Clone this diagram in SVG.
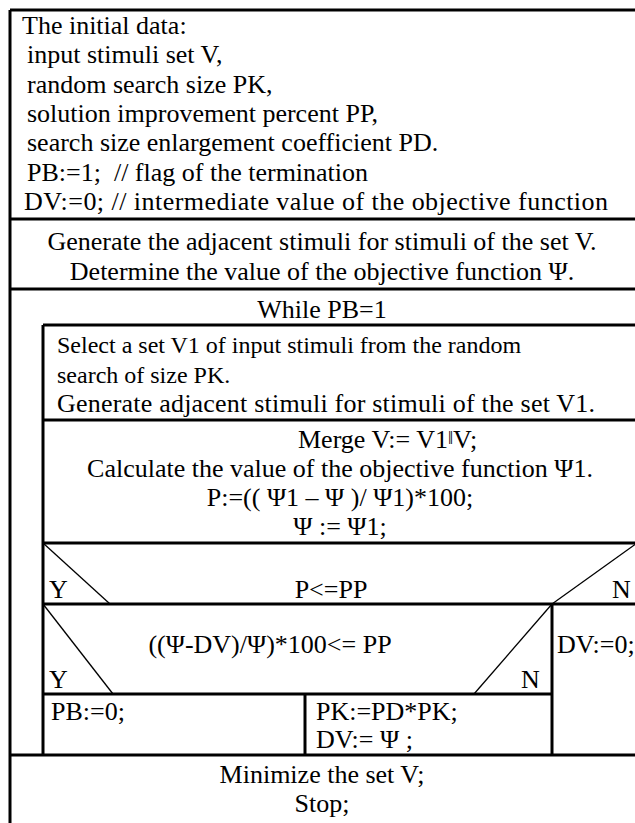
<svg xmlns="http://www.w3.org/2000/svg" width="635" height="823" viewBox="0 0 635 823">
<style>
text{font-family:"Liberation Serif","Times New Roman",serif;font-size:26px;fill:#000}
.c{text-anchor:middle}
.s{font-size:24px}
.b{stroke:#000;stroke-width:3;fill:none}
.d{stroke:#000;stroke-width:1.3;fill:none}
</style>
<rect width="635" height="823" fill="#fff"/>
<g id="frame">
<line class="b" x1="10" y1="10" x2="640" y2="10"/>
<line class="b" x1="10" y1="10" x2="10" y2="823"/>
</g>
<g id="init">
<text x="22" y="34">The initial data:</text>
<text x="27" y="63">input stimuli set V,</text>
<text x="27" y="93">random search size PK,</text>
<text x="27" y="122">solution improvement percent PP,</text>
<text x="27" y="151">search size enlargement coefficient PD.</text>
<text x="27" y="181" xml:space="preserve">PB:=1;  // flag of the termination</text>
<text x="24" y="210" textLength="584" lengthAdjust="spacing">DV:=0; // intermediate value of the objective function</text>
</g>
<g id="generate">
<line class="b" x1="10" y1="219" x2="640" y2="219"/>
<text class="c" x="322" y="250">Generate the adjacent stimuli for stimuli of the set V.</text>
<text class="c" x="322" y="280">Determine the value of the objective function Ψ.</text>
</g>
<g id="while">
<line class="b" x1="10" y1="289" x2="640" y2="289"/>
<text class="c" x="322" y="318">While PB=1</text>
<line class="b" x1="43" y1="325" x2="640" y2="325"/>
<line class="b" x1="43" y1="325" x2="43" y2="755"/>
</g>
<g id="select">
<text class="s" x="57" y="353">Select a set V1 of input stimuli from the random</text>
<text class="s" x="57" y="383">search of size PK.</text>
<text x="57" y="412" textLength="538" lengthAdjust="spacing">Generate adjacent stimuli for stimuli of the set V1.</text>
</g>
<g id="merge">
<line class="b" x1="43" y1="420" x2="640" y2="420"/>
<text x="298" y="448">Merge V:= V1<tspan font-size="18" dy="-4">‖</tspan><tspan dy="4">V;</tspan></text>
<text class="c" x="340" y="477">Calculate the value of the objective function Ψ1.</text>
<text class="c" x="340" y="506">P:=(( Ψ1 – Ψ )/ Ψ1)*100;</text>
<text class="c" x="340" y="535">Ψ := Ψ1;</text>
</g>
<g id="decision1">
<line class="b" x1="43" y1="543" x2="640" y2="543"/>
<line class="d" x1="43" y1="543" x2="110" y2="604"/>
<line class="d" x1="637" y1="543" x2="552" y2="604"/>
<text x="49" y="598">Y</text>
<text class="c" x="331" y="598">P&lt;=PP</text>
<text x="612" y="598">N</text>
</g>
<g id="decision2">
<line class="b" x1="43" y1="604" x2="640" y2="604"/>
<line class="d" x1="43" y1="604" x2="113" y2="694"/>
<line class="d" x1="552" y1="604" x2="474" y2="694"/>
<text class="c" x="270" y="653">((Ψ-DV)/Ψ)*100&lt;= PP</text>
<text x="49" y="688">Y</text>
<text x="521" y="688">N</text>
</g>
<g id="dv0">
<line class="b" x1="552" y1="604" x2="552" y2="755"/>
<text x="557" y="653">DV:=0;</text>
</g>
<g id="pb0">
<line class="b" x1="43" y1="694" x2="552" y2="694"/>
<text x="51" y="720">PB:=0;</text>
</g>
<g id="pk">
<line class="b" x1="305" y1="694" x2="305" y2="755"/>
<text x="316" y="720">PK:=PD*PK;</text>
<text x="316" y="748">DV:= Ψ ;</text>
</g>
<g id="minimize">
<line class="b" x1="10" y1="755" x2="640" y2="755"/>
<text class="c" x="322" y="783">Minimize the set V;</text>
<text class="c" x="322" y="812">Stop;</text>
</g>
</svg>
